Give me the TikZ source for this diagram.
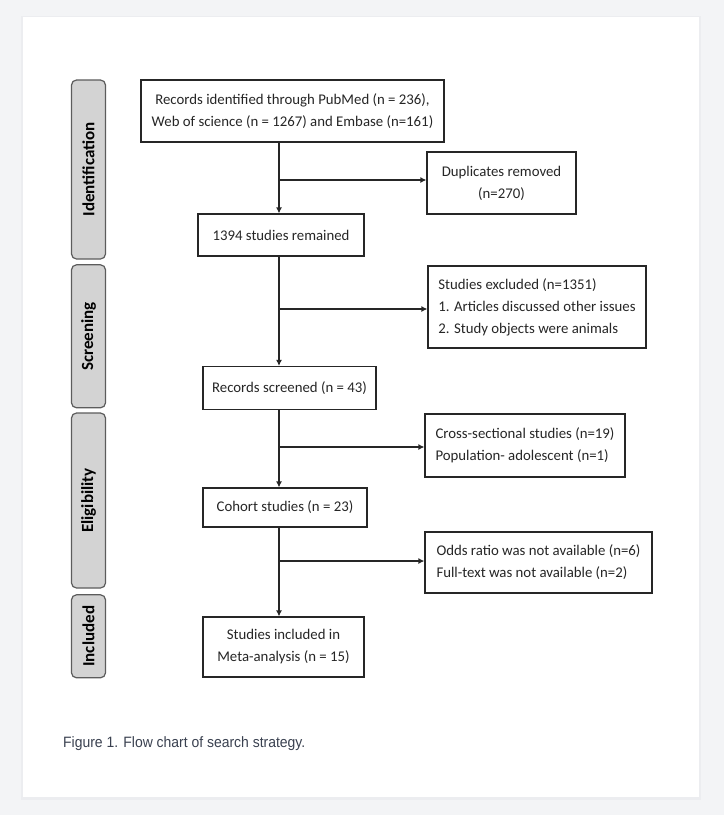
\documentclass[tikz,border=0pt]{standalone}
\usepackage{fontspec}
\setmainfont{Carlito}
\newfontfamily\capfont{Liberation Sans}
\usetikzlibrary{arrows.meta}
\definecolor{pagegray}{HTML}{F3F4F6}
\definecolor{shadegray}{HTML}{ECEDF0}
\definecolor{stagegray}{HTML}{D3D3D3}
\definecolor{stageedge}{HTML}{5C5C5C}
\definecolor{inkgray}{HTML}{262626}
\definecolor{capgray}{HTML}{3A4150}
\begin{document}
\begin{tikzpicture}[x=1pt, y=-1pt,
  box/.style={draw=inkgray, line width=1.2pt, fill=white, inner sep=4pt,
    align=center, text=inkgray, font=\fontsize{14.8}{22}\selectfont},
  sidebox/.style={box, align=left},
  stage/.style={draw=stageedge, line width=1.2pt, fill=stagegray, rounded corners=5pt,
    minimum height=34pt, inner sep=0pt, rotate=90, text=black,
    font=\fontsize{17}{20}\selectfont\bfseries},
  flow/.style={draw=inkgray, line width=1.4pt, -{Latex[length=6pt,width=6pt]}}]

% page and panel
\fill[pagegray] (0,0) rectangle (724,815);
\fill[shadegray] (21,16) rectangle (701,800);
\fill[white] (23,17) rectangle (699,797);
\useasboundingbox (0,0) rectangle (724,815);

% stages
\node[stage, minimum width=179pt] (ident) at (88.5,169.5) {Identification};
\node[stage, minimum width=143pt] (screen) at (88.5,336.3) {Screening};
\node[stage, minimum width=175pt] (elig) at (88.5,500.5) {Eligibility};
\node[stage, minimum width=83pt] (incl) at (88.5,636.3) {Included};

% main column
\node[box, minimum width=303pt, minimum height=62pt] (records) at (292.5,111) {Records identified through PubMed (n = 236),\\Web of science (n = 1267) and Embase (n=161)};
\node[box, minimum width=166pt, minimum height=42pt] (remain) at (281,235) {1394 studies remained};
\node[box, minimum width=173pt, minimum height=43pt] (screened) at (289.5,388) {Records screened (n = 43)};
\node[box, minimum width=164pt, minimum height=39pt] (cohort) at (285,507.5) {Cohort studies (n = 23)};
\node[box, minimum width=161pt, minimum height=60pt] (included) at (283.5,647) {Studies included in\\Meta-analysis (n = 15)};

% side boxes
\node[box, minimum width=149pt, minimum height=62pt] (dupl) at (501.5,183) {Duplicates removed\\(n=270)};
\node[sidebox, minimum width=218pt, minimum height=82pt] (excl) at (537,307) {Studies excluded (n=1351)\\1. Articles discussed other issues\\2. Study objects were animals};
\node[sidebox, minimum width=200pt, minimum height=63pt] (cross) at (525,445.5) {Cross-sectional studies (n=19)\\Population- adolescent (n=1)};
\node[sidebox, minimum width=227pt, minimum height=61pt] (odds) at (538.5,562.5) {Odds ratio was not available (n=6)\\Full-text was not available (n=2)};

% junctions
\coordinate (j1) at (279,180);
\coordinate (j2) at (279,309);
\coordinate (j3) at (279,447);
\coordinate (j4) at (279,561);

\path[flow] (records.south -| j1) -- (remain.north -| j1);
\path[flow] (remain.south -| j2) -- (screened.north -| j2);
\path[flow] (screened.south -| j3) -- (cohort.north -| j3);
\path[flow] (cohort.south -| j4) -- (included.north -| j4);

\path[flow] (j1) -- (j1 -| dupl.west);
\path[flow] (j2) -- (j2 -| excl.west);
\path[flow] (j3) -- (j3 -| cross.west);
\path[flow] (j4) -- (j4 -| odds.west);

% caption
\node[anchor=west, text=capgray, font=\capfont\fontsize{15}{18}\selectfont, inner sep=0pt, xscale=0.93, transform shape] (cap) at (63,744) {Figure 1. Flow chart of search strategy.};
\end{tikzpicture}
\end{document}
